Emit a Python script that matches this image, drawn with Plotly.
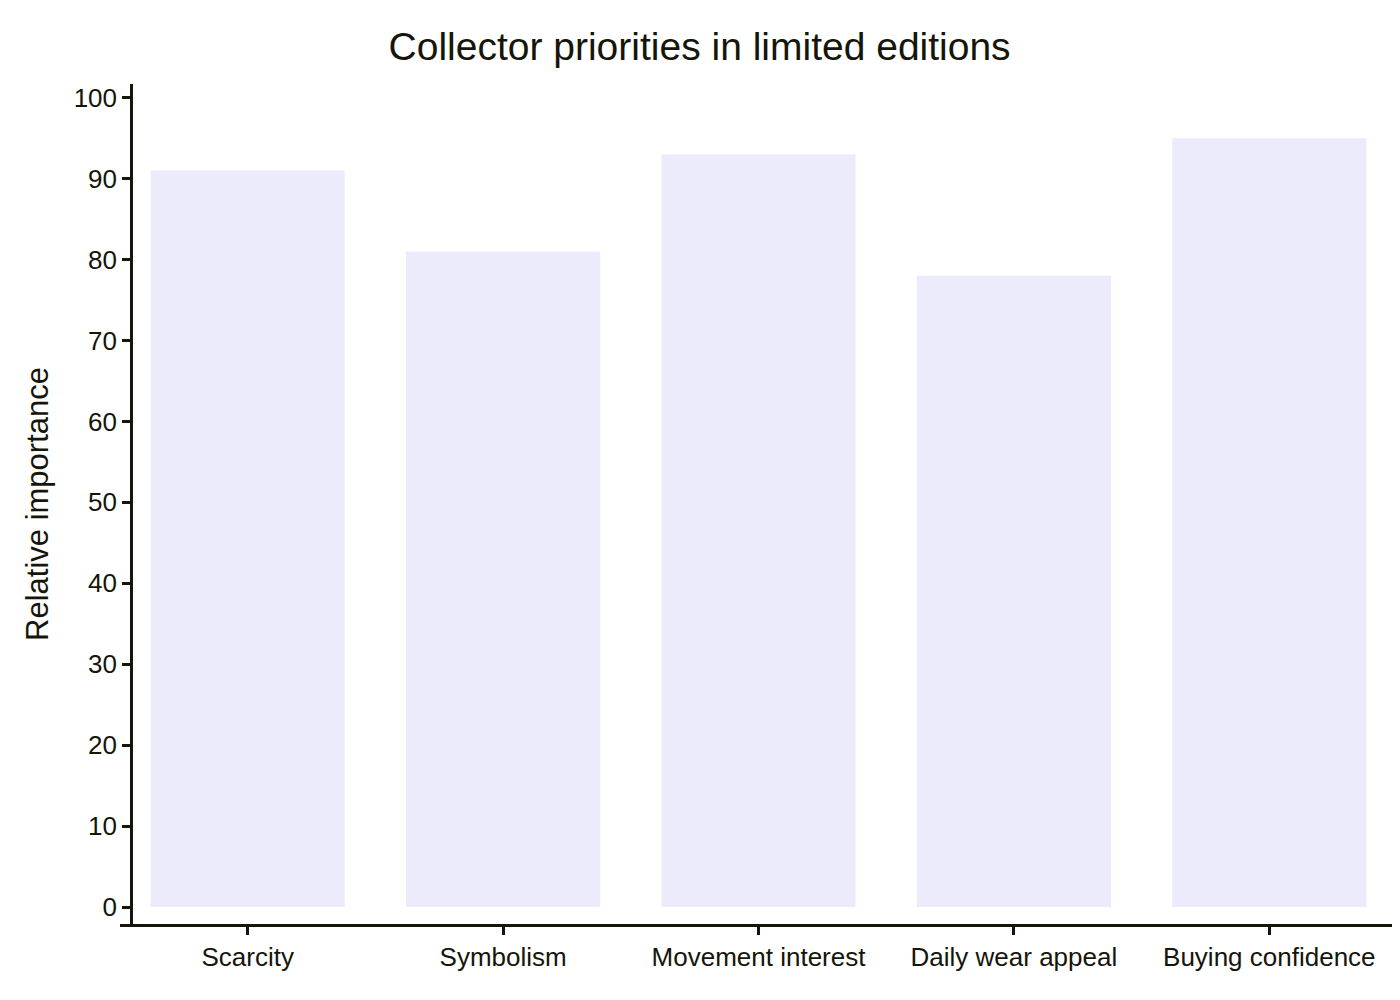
import plotly.graph_objects as go

categories = ["Scarcity", "Symbolism", "Movement interest", "Daily wear appeal", "Buying confidence"]
values = [91, 81, 93, 78, 95]
ytick_vals = list(range(0, 101, 10))

ink = "#15150a"
fig = go.Figure(go.Bar(x=categories, y=values, marker_color="#ecebfc", marker_line_width=0, hoverinfo="skip"))
fig.update_layout(
    width=1400, height=1000,
    margin=dict(l=112, r=11, t=76, b=84, autoexpand=False),
    paper_bgcolor="white", plot_bgcolor="white",
    bargap=0.24, showlegend=False,
    font=dict(family="Liberation Sans, Arial, sans-serif", color=ink, size=26),
    title=dict(text="Collector priorities in limited editions", x=0.494, xanchor="center",
               y=0.962, yanchor="middle", font=dict(size=39, color=ink)),
    xaxis=dict(showline=True, linecolor=ink, linewidth=2.5, ticks="outside", ticklen=8,
               tickwidth=2.5, tickcolor=ink, showgrid=False, tickfont=dict(size=26), automargin=False),
    yaxis=dict(range=[-2.1, 101.7], tickvals=ytick_vals, showline=True, linecolor=ink, linewidth=2.5,
               ticks="outside", ticklen=8, tickwidth=2.5, tickcolor=ink, showgrid=False,
               zeroline=False, anchor="free", position=0.0086, automargin=False,
               title=dict(text="Relative importance", font=dict(size=31), standoff=14),
               tickfont=dict(size=26)),
)
fig.write_html("out.html")
